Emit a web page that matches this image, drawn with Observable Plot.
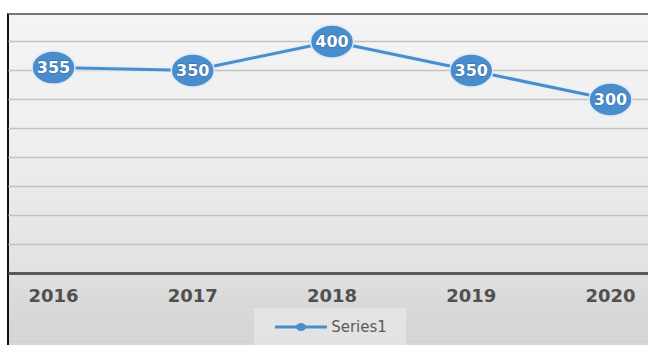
<!DOCTYPE html>
<html>
<head>
<meta charset="utf-8">
<script src="https://cdn.jsdelivr.net/npm/d3@7"></script>
<script src="https://cdn.jsdelivr.net/npm/@observablehq/plot@0.6"></script>
<style>
  html, body { margin: 0; padding: 0; background: #fff; }
  #wrap { position: relative; width: 648px; height: 345px; overflow: hidden; background: #fff; }
  #box {
    position: absolute; left: 7px; top: 13px; right: 0; bottom: 0;
    border-left: 2px solid #111; border-top: 2px solid #777;
    background:
      repeating-linear-gradient(to bottom, rgba(255,255,255,0) 0px, rgba(255,255,255,0) 3px, rgba(255,255,255,0.12) 4px, rgba(255,255,255,0) 5px),
      linear-gradient(to bottom, #f4f4f4 0%, #eeeeee 40%, #e2e2e2 75%, #d8d8d8 88%, #d4d4d4 100%);
  }
  #chart { position: absolute; left: 0; top: 0; }
  #legend {
    position: absolute; left: 254px; top: 308px; width: 152px; height: 37px;
    background: rgba(240,240,240,0.5);
    display: flex; align-items: center; justify-content: center;
    font-family: "DejaVu Sans", sans-serif; font-size: 15px; color: #5a5a5a;
  }
  #legend svg { margin-right: 2px; }
</style>
</head>
<body>
<div id="wrap">
  <div id="box"></div>
  <div id="chart"></div>
  <div id="legend"></div>
</div>
<script>
const years = [2016, 2017, 2018, 2019, 2020];
const values = [355, 350, 400, 350, 300];
const gridValues = [50, 100, 150, 200, 250, 300, 350, 400];
const seriesName = "Series1";

const blue = "#4a8dcd";
const data = years.map((year, i) => ({year, value: values[i]}));

const ellipse = {
  draw(ctx, size) {
    const r = Math.sqrt(size / Math.PI);
    const rx = r * 1.3, ry = r, k = 0.5523;
    ctx.moveTo(rx, 0);
    ctx.bezierCurveTo(rx, ry * k, rx * k, ry, 0, ry);
    ctx.bezierCurveTo(-rx * k, ry, -rx, ry * k, -rx, 0);
    ctx.bezierCurveTo(-rx, -ry * k, -rx * k, -ry, 0, -ry);
    ctx.bezierCurveTo(rx * k, -ry, rx, -ry * k, rx, 0);
    ctx.closePath();
  }
};

const chart = Plot.plot({
  width: 648,
  height: 310,
  marginLeft: 53,
  marginRight: 38,
  marginTop: 12,
  marginBottom: 37,
  style: {background: "transparent", overflow: "visible"},
  x: {domain: [2016, 2020], axis: null, label: null},
  y: {domain: [0, 450], axis: null, label: null},
  marks: [
    Plot.ruleY(gridValues, {x1: 2015.68, x2: 2020.3, stroke: "#c2c2c2", strokeWidth: 1.6}),
    Plot.ruleY([0], {x1: 2015.68, x2: 2020.3, stroke: "#5a5a5a", strokeWidth: 3}),
    Plot.axisX({
      ticks: years, tickFormat: d => String(d), tickSize: 0, tickPadding: 16, label: null,
      fontSize: 18, fontFamily: "DejaVu Sans", fontWeight: "bold", fill: "#505050"
    }),
    Plot.line(data, {x: "year", y: "value", stroke: "#e3eefa", strokeWidth: 6, strokeOpacity: 0.7}),
    Plot.line(data, {x: "year", y: "value", stroke: blue, strokeWidth: 3}),
    Plot.dot(data, {x: "year", y: "value", r: 16.5, symbol: ellipse, fill: blue, stroke: "#dde9f6", strokeWidth: 1.5}),
    Plot.text(data, {
      x: "year", y: "value", text: d => String(d.value),
      fill: "white", stroke: "#2e6aa6", strokeWidth: 1.2, paintOrder: "stroke",
      fontSize: 16, fontWeight: "bold", fontFamily: "DejaVu Sans"
    })
  ]
});
document.getElementById("chart").appendChild(chart);

const legend = document.getElementById("legend");
const sw = d3.create("svg").attr("width", 56).attr("height", 12);
sw.append("line").attr("x1", 2).attr("x2", 54).attr("y1", 6).attr("y2", 6).attr("stroke", blue).attr("stroke-width", 3);
sw.append("ellipse").attr("cx", 28).attr("cy", 6).attr("rx", 5).attr("ry", 4).attr("fill", blue);
legend.appendChild(sw.node());
const lt = document.createElement("span");
lt.textContent = seriesName;
legend.appendChild(lt);
</script>
</body>
</html>
